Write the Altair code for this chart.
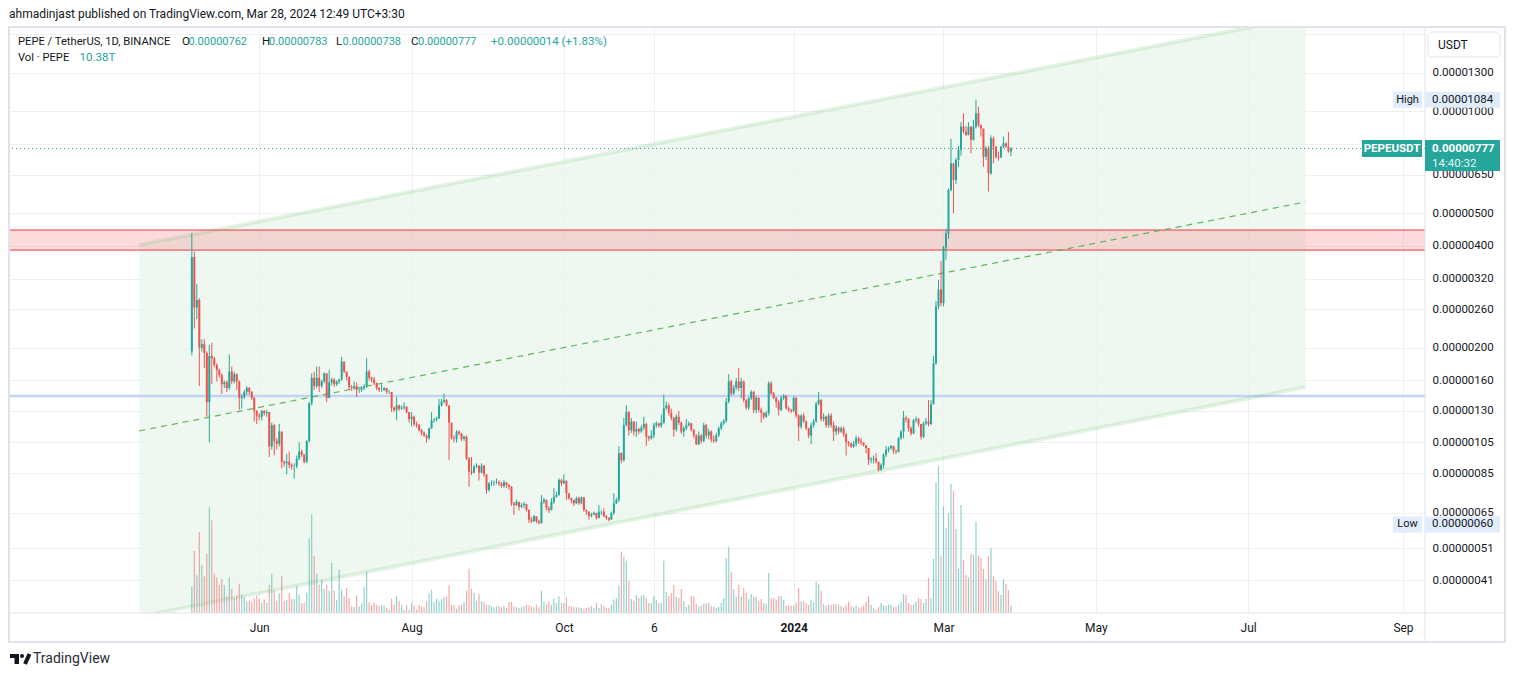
import altair as alt
import pandas as pd

# ---------------- data (prices in units of 1e-8 USDT, volume in trillions) ----------------
start_date = "2023-05-05"
first_open_e8 = 195

close_e8 = [
    371, 263, 277, 200, 205, 193, 138, 189, 186, 178,
    172, 166, 156, 158, 152, 170, 159, 167, 159, 142,
    143, 148, 152, 148, 142, 130, 126, 125, 130, 128,
    129, 102, 118, 106, 104, 113, 92, 91, 92, 90,
    89, 89, 94, 98.6, 96.4, 92, 106, 137, 163, 154,
    163, 154, 159, 168, 142, 158, 161, 156, 159, 161,
    182, 170, 164, 153, 152, 154, 150, 150, 152, 154,
    170, 163, 161, 157, 152, 150, 150, 152, 148, 148,
    133, 131, 135, 132, 133, 134, 129, 123, 125, 119,
    118, 114, 112, 110, 108, 115.5, 122, 122.5, 123.5, 135,
    138.5, 140, 135, 120, 108, 107.5, 113, 111.6, 107.5, 109,
    94, 86, 85.4, 89, 89.5, 85.4, 89.5, 84.4, 75.9, 79.4,
    79.8, 80, 80.2, 79.4, 78, 80, 78.5, 77.6, 69.3, 68.5,
    70, 67.7, 68.5, 69, 66.2, 62, 61.3, 63.5, 61.3, 60.6,
    70, 71, 67, 66.2, 70, 72.5, 73.3, 81.2, 79.4, 80.8,
    74.2, 71.8, 70.9, 69.3, 71.8, 69.3, 72.2, 66.2, 65.5, 63.5,
    64.2, 64.9, 62.8, 65.5, 65.5, 63.5, 62.8, 62, 64.9, 69.3,
    70.9, 97.5, 93, 118, 129, 114, 121, 113, 115, 113,
    116, 119, 109, 108, 110, 118, 119.5, 117.5, 120, 132.5,
    135, 128.5, 124, 114.5, 125, 120, 113, 115.5, 118, 119.5,
    114.3, 110, 103.6, 110, 106, 118, 110, 113, 107, 106,
    110, 115.5, 119.5, 121.5, 138.5, 159, 146.5, 152, 159, 152,
    159, 140, 133, 142, 148, 131, 142, 131, 128.5, 125,
    128, 157, 146.5, 142, 138, 131, 142, 144, 132.5, 131,
    130, 142, 126, 117, 126, 121, 115.5, 110, 118, 121,
    136.5, 140, 123, 125, 118, 126, 118, 113, 116, 113,
    115.5, 111, 105, 104, 102, 104, 107.8, 105.7, 104.8, 103,
    101, 93, 93.5, 94, 92, 87, 90, 96.4, 99.7, 100.8,
    102.4, 99, 98.5, 107.8, 113, 124, 123, 115.5, 111.6, 122,
    123, 119, 109, 119.6, 121, 119, 136, 180, 265, 297,
    271, 396, 436, 586, 702, 627, 719, 770, 902, 872,
    852, 902, 824, 902, 988, 912, 890, 735, 778, 656,
    833, 787, 735, 730, 787, 805, 787, 762, 777,
]

high_e8 = [
    437, 385, 309, 280, 212, 212, 195, 204, 207, 188,
    180, 173, 168, 160, 160, 191, 176, 170, 168, 160,
    146, 150, 154, 153, 149, 143, 131, 128, 131, 131,
    131, 129, 120, 119, 108, 119, 113, 93, 97, 98.6,
    91, 91, 96, 105, 100, 97, 106.5, 138, 168, 170,
    176, 176, 161, 169, 168, 172, 163, 163, 160, 162,
    188, 182, 170, 164, 155, 159, 158, 152, 154, 156,
    186, 172, 164, 164, 158, 153, 156, 153, 152, 150,
    148, 134, 143, 136, 135, 138, 134, 129, 129, 126,
    121, 119, 115, 113, 111, 116, 129, 124, 125, 141,
    141, 146, 141, 135, 120, 110, 114, 114, 112, 110,
    110, 95, 95, 90, 91, 90, 91, 90, 84.4, 80,
    81, 81, 82, 81, 80, 81.2, 80, 79, 78, 70,
    71, 70, 69.5, 70, 69, 66.5, 63, 64, 63.5, 62,
    73.3, 72, 71, 68, 71.8, 76.8, 75, 82.2, 82, 84.4,
    81, 74, 72, 71, 72.5, 72.5, 72.5, 72, 66.5, 65.5,
    65, 65.5, 65, 68.5, 66, 67, 64, 63, 65.5, 74.2,
    72, 102.4, 98, 124, 135, 130, 124, 121, 121, 116,
    118, 125, 120, 110, 114, 120, 121, 120, 127, 145,
    138.5, 137, 132, 125, 127, 130, 121, 117, 123, 121,
    120, 115, 111, 113, 111, 120, 119, 115, 114, 110,
    112, 117, 121, 123, 142, 167, 161, 155, 163, 174,
    163, 160, 141, 143, 150, 149, 144, 143, 133, 129,
    130, 159, 159, 148, 143, 140, 144, 146, 145, 134,
    132, 144, 143, 127, 127, 128, 122, 116, 120, 123,
    138.5, 148, 141, 128, 126, 128, 128, 121, 118, 117,
    117, 117, 112, 106, 105, 106, 110, 109, 108, 105,
    103, 101, 95, 96, 97.5, 92, 91, 97.5, 102.4, 102,
    103, 102.5, 100, 109, 114, 130, 126, 124, 117, 123,
    125, 124, 119, 121, 124, 140, 140, 189, 275, 317,
    362, 400, 450, 592, 830, 705, 730, 790, 930, 988,
    905, 930, 905, 944, 1084, 1034, 915, 890, 790, 790,
    850, 843, 790, 760, 790, 843, 810, 870, 783,
]

low_e8 = [
    190, 228, 243, 154, 195, 174, 125, 105, 156, 175,
    159, 163, 146, 152, 148, 150, 156, 157, 150, 131,
    132, 141, 145, 145, 140, 121, 119, 122, 122, 126,
    125, 95, 100, 96, 100, 102, 88, 89, 84.5, 88,
    87, 82, 88, 93, 95, 91, 91, 105, 135, 150,
    152, 148, 152, 157, 138, 142, 155, 153, 154, 156,
    160, 168, 160, 150, 149, 150, 143, 147, 148, 150,
    152, 160, 158, 155, 150, 148, 148, 149, 146, 146,
    129, 129, 122, 130, 131, 131, 128, 120, 117, 117,
    116, 113, 110, 109, 104.8, 107, 115, 120, 121, 123,
    134, 137, 134, 93, 107, 105, 104.8, 110, 106, 106,
    93, 77.6, 84, 85, 88, 81, 85, 83, 74, 75,
    78, 78, 79, 78, 77, 77, 77, 76, 68, 64,
    68, 66, 67, 67, 65.5, 60.6, 60.6, 61, 60.5, 60.0,
    60.3, 69, 66, 64.9, 66, 69, 72, 73, 78, 79,
    70.9, 71, 69.3, 68, 69, 68.5, 69, 65.5, 64, 62,
    63, 64, 62, 62.5, 64, 63, 62, 61.3, 62, 64,
    69, 70, 91, 92, 117, 110, 112, 110, 109, 111,
    112, 114, 102.5, 106, 107, 108, 116, 116, 116, 119,
    131, 126, 122, 109, 113, 118, 111, 109, 114, 117,
    113, 108, 103, 103, 104, 105, 108, 107, 105, 104.5,
    105, 109, 114, 118, 120, 137, 144, 145, 150, 149,
    142, 138, 131, 131, 140, 128, 128, 129, 120, 123,
    124, 126, 145, 141, 133, 126, 130, 140, 131, 129,
    128, 129, 124, 106, 115, 120, 114, 108, 103.6, 116,
    120, 135, 121, 121, 116, 116, 116, 106, 110, 111,
    112, 109, 96, 102, 101, 101, 102, 104, 103, 102,
    97.5, 90, 91, 91, 91, 86, 86.5, 88, 95, 98,
    100, 97, 97, 98, 107, 108, 120, 113, 110, 111,
    120, 117, 107, 108, 118, 117, 118, 136, 178, 260,
    265, 265, 364, 420, 580, 500, 610, 686, 740, 860,
    845, 850, 752, 820, 890, 900, 843, 686, 720, 580,
    650, 702, 725, 715, 730, 780, 780, 755, 738,
]

volume_T = [
    37.9, 88.0, 53.5, 114.6, 68.6, 52.1, 84.2, 150.1, 131.6, 55.8,
    50.7, 39.3, 48.7, 39.3, 23.7, 50.7, 34.5, 21.3, 23.7, 41.6,
    26.0, 22.3, 16.6, 17.5, 15.6, 21.3, 24.6, 20.3, 14.2, 19.5,
    14.2, 40.2, 55.8, 31.7, 17.5, 28.0, 53.0, 17.5, 18.9, 28.8,
    20.3, 20.3, 37.9, 26.0, 13.8, 14.2, 28.8, 106.1, 139.6, 81.4,
    55.8, 40.2, 47.3, 34.1, 40.2, 31.7, 71.0, 31.7, 18.5, 61.5,
    33.1, 23.7, 35.5, 21.3, 9.5, 8.5, 25.1, 9.5, 13.8, 36.5,
    58.6, 15.6, 10.9, 14.6, 11.8, 10.4, 10.9, 10.9, 7.1, 4.7,
    20.3, 11.8, 23.7, 17.5, 11.8, 4.7, 10.9, 4.7, 14.2, 10.9,
    4.7, 11.8, 9.5, 8.1, 16.6, 28.0, 33.1, 15.6, 20.3, 17.5,
    20.3, 22.3, 23.7, 39.3, 11.8, 11.8, 6.1, 10.9, 11.8, 15.6,
    31.7, 62.9, 34.5, 28.4, 17.5, 27.0, 16.6, 15.6, 11.8, 10.9,
    9.5, 8.1, 9.5, 10.4, 8.1, 9.5, 7.1, 15.6, 15.6, 9.5,
    8.1, 7.1, 8.1, 9.5, 11.8, 10.9, 9.5, 8.1, 11.8, 8.1,
    31.7, 15.6, 11.8, 15.6, 11.8, 20.3, 14.2, 23.7, 14.2, 14.2,
    22.3, 9.5, 9.5, 8.5, 8.1, 8.1, 7.1, 6.1, 7.1, 8.1,
    9.5, 7.1, 14.2, 7.1, 12.8, 10.4, 7.5, 7.5, 11.8, 18.9,
    21.3, 38.8, 87.0, 79.9, 74.3, 45.9, 19.9, 17.5, 25.6, 21.3,
    24.6, 25.6, 21.3, 14.2, 14.2, 24.6, 18.9, 14.2, 14.2, 74.3,
    30.2, 24.6, 28.4, 39.8, 23.1, 21.7, 34.1, 17.0, 8.9, 11.8,
    24.6, 23.7, 12.8, 8.9, 10.4, 12.8, 14.2, 14.2, 10.4, 8.9,
    7.1, 8.9, 14.2, 21.3, 78.1, 94.1, 58.6, 34.1, 23.1, 40.2,
    23.1, 35.5, 28.4, 19.9, 27.0, 23.1, 23.1, 16.6, 19.9, 14.2,
    12.8, 56.8, 21.3, 21.3, 18.9, 23.7, 24.6, 18.9, 10.4, 10.4,
    10.4, 10.4, 14.2, 35.5, 16.6, 16.6, 14.2, 11.8, 18.9, 15.2,
    44.4, 41.2, 31.7, 12.8, 10.4, 11.8, 11.8, 12.8, 12.8, 11.8,
    10.4, 8.1, 11.8, 16.0, 10.4, 8.1, 10.4, 8.1, 8.1, 10.4,
    16.0, 24.6, 11.8, 6.7, 4.7, 8.9, 14.2, 10.4, 10.4, 11.8,
    11.8, 8.9, 8.9, 11.8, 16.0, 27.0, 25.6, 14.2, 11.8, 11.8,
    16.0, 21.3, 19.9, 14.2, 19.9, 49.7, 21.3, 76.7, 185.6, 209.2,
    81.4, 151.5, 120.7, 142.0, 183.2, 173.7, 119.3, 62.5, 153.4, 75.7,
    54.0, 50.7, 83.8, 82.8, 129.6, 81.4, 77.7, 62.5, 48.3, 80.5,
    92.3, 52.1, 45.0, 30.8, 25.6, 48.3, 41.2, 32.7, 10.38,
]

price_ticks_e8 = [1700, 1300, 1000, 800, 650, 500, 400, 320, 260, 200, 160, 130, 105, 85, 65, 51, 41]
hidden_ticks_e8 = [1700, 800]   # grid only, label covered in the reference
time_ticks = [(2023, 6, 1), (2023, 8, 1), (2023, 10, 1), (2023, 11, 6), (2024, 1, 1),
              (2024, 3, 1), (2024, 5, 1), (2024, 7, 1), (2024, 9, 1)]

channel_dates = ["2023-04-14", "2024-07-24"]
channel_top_e8 = [403, 1910]
channel_mid_e8 = [113.5, 540]
channel_bot_e8 = [32, 153]
zone_e8 = [389, 446]
support_e8 = 144
last_e8 = 777
ath_e8 = 1084
atl_e8 = 60

E = 1e-8

# ---------------- frames ----------------
dates = pd.date_range(start_date, periods=len(close_e8), freq="D")
open_e8 = [first_open_e8] + close_e8[:-1]
df = pd.DataFrame({
    "date": dates,
    "open": [v * E for v in open_e8],
    "close": [v * E for v in close_e8],
    "high": [v * E for v in high_e8],
    "low": [v * E for v in low_e8],
    "vol": volume_T,
})
df["high"] = df[["high", "open", "close"]].max(axis=1)
df["low"] = df[["low", "open", "close"]].min(axis=1)
df["dir"] = ["up" if c >= o else "down" for o, c in zip(df["open"], df["close"])]

chan = pd.DataFrame({
    "d": pd.to_datetime(channel_dates),
    "top": [v * E for v in channel_top_e8],
    "mid": [v * E for v in channel_mid_e8],
    "bot": [v * E for v in channel_bot_e8],
})
dummy = pd.DataFrame({"k": [0]})

# ---------------- scales / axes ----------------
FONT = "Roboto"
TXT = "#131722"
TEAL = "#26a69a"
RED = "#ef5350"
GRID = "#eef0f3"
FRAME = "#e0e3eb"

yscale = alt.Scale(type="log", domain=[3.2827e-7, 1.7659e-5], nice=False)
xscale = alt.Scale(domain=[alt.DateTime(year=2023, month=2, date=23, hours=4, minutes=30),
                           alt.DateTime(year=2024, month=9, date=7, hours=19, minutes=30)],
                   nice=False)

hide_test = " || ".join(f"abs(datum.value - {v * E:.3e}) < 1e-9" for v in hidden_ticks_e8)
yaxis = alt.Axis(orient="right", values=[v * E for v in price_ticks_e8], format=".8f",
                 labelExpr=f"({hide_test}) ? '' : datum.label",
                 title=None, grid=True, gridColor=GRID, gridWidth=1, domain=False,
                 ticks=False, tickSize=0, labelPadding=7, labelFont=FONT,
                 labelFontSize=11.5, labelColor=TXT, labelOverlap=False,
                 labelFlush=False, labelBound=False)

xaxis = alt.Axis(values=[alt.DateTime(year=y, month=m, date=d) for y, m, d in time_ticks],
                 labelExpr="month(datum.value) == 0 ? timeFormat(datum.value, '%Y') : "
                           "(date(datum.value) != 1 ? timeFormat(datum.value, '%-d') : "
                           "timeFormat(datum.value, '%b'))",
                 labelFontWeight=alt.condition("month(datum.value) == 0",
                                               alt.value("bold"), alt.value("normal")),
                 title=None, grid=True, gridColor=GRID, gridWidth=1, domain=False,
                 ticks=False, tickSize=0, labelPadding=9, labelFont=FONT,
                 labelFontSize=12, labelColor=TXT, labelOverlap=False, labelFlush=False)


def X(field):
    return alt.X(f"{field}:T", scale=xscale, axis=xaxis)


def Yp(field, axis=None):
    return alt.Y(f"{field}:Q", scale=yscale, axis=axis)


color_enc = alt.Color("dir:N", scale=alt.Scale(domain=["up", "down"], range=[TEAL, RED]),
                      legend=None)

# ---------------- background group (price scale) ----------------
chan_fill = alt.Chart(chan).mark_area(color="#e8f5e9", opacity=0.7, clip=True).encode(
    x=X("d"), y=Yp("bot", yaxis), y2="top:Q")

zone = alt.Chart(pd.DataFrame({"lo": [zone_e8[0] * E], "hi": [zone_e8[1] * E]})).mark_rect(
    color="#f23645", opacity=0.18).encode(y=Yp("hi", yaxis), y2="lo:Q")

zone_lines = alt.Chart(pd.DataFrame({"p": [v * E for v in zone_e8]})).mark_rule(
    color="#f23645", strokeWidth=1).encode(y=Yp("p", yaxis))

support = alt.Chart(pd.DataFrame({"p": [support_e8 * E]})).mark_rule(
    color="#c3d3f3", strokeWidth=2.5).encode(y=Yp("p", yaxis))

chan_top = alt.Chart(chan).mark_line(color="#4caf50", opacity=0.15, strokeWidth=4,
                                     clip=True).encode(x=X("d"), y=Yp("top", yaxis))
chan_bot = alt.Chart(chan).mark_line(color="#4caf50", opacity=0.15, strokeWidth=4,
                                     clip=True).encode(x=X("d"), y=Yp("bot", yaxis))
chan_mid = alt.Chart(chan).mark_line(color="#4caf50", opacity=0.9, strokeWidth=1.2,
                                     strokeDash=[6, 5], clip=True).encode(
    x=X("d"), y=Yp("mid", yaxis))

last_line = alt.Chart(pd.DataFrame({"p": [last_e8 * E]})).mark_rule(
    color=TEAL, strokeWidth=1, strokeDash=[1, 3]).encode(y=Yp("p", yaxis))

bg = alt.layer(chan_fill, zone, zone_lines, support, chan_top, chan_bot, chan_mid, last_line)

# ---------------- volume ----------------
vol = alt.Chart(df).mark_bar(width=1.2, opacity=0.5).encode(
    x=X("date"),
    y=alt.Y("vol:Q", scale=alt.Scale(domain=[0, 831], nice=False), axis=None),
    color=color_enc)

# ---------------- candles ----------------
wick = alt.Chart(df).mark_rule(strokeWidth=1).encode(
    x=X("date"), y=Yp("low"), y2="high:Q", color=color_enc)
body = alt.Chart(df).mark_bar(width=2).encode(
    x=X("date"), y=Yp("open"), y2="close:Q", color=color_enc)
candles = alt.layer(wick, body)

# ---------------- labels & frame ----------------
def box(p, cx, w, up, down, color):
    path = f"M-1,{-up / (w / 2):.4f}H1V{down / (w / 2):.4f}H-1Z"
    return alt.Chart(pd.DataFrame({"p": [p]})).mark_point(
        shape=path, size=w * w, filled=True, fill=color, strokeWidth=0, opacity=1).encode(
        x=alt.value(cx), y=Yp("p"))


def ptext(p, t, x, color, align="left", weight="normal", size=11.5, dy=0):
    return alt.Chart(pd.DataFrame({"p": [p], "t": [t]})).mark_text(
        align=align, baseline="middle", font=FONT, fontSize=size, color=color,
        fontWeight=weight, dy=dy).encode(x=alt.value(x), y=Yp("p"), text="t:N")


def stext(t, x, y, color=TXT, size=12.5, weight="normal"):
    return alt.Chart(dummy).mark_text(
        text=t, align="left", baseline="middle", font=FONT, fontSize=size,
        color=color, fontWeight=weight).encode(x=alt.value(x), y=alt.value(y))


frame = alt.Chart(dummy).mark_rect(fillOpacity=0, stroke=FRAME, strokeWidth=2).encode(
    x=alt.value(-1), x2=alt.value(1495), y=alt.value(-1), y2=alt.value(614))
sep_h = alt.Chart(dummy).mark_rule(color=FRAME, strokeWidth=1).encode(
    x=alt.value(-1), x2=alt.value(1495), y=alt.value(585))
sep_v = alt.Chart(dummy).mark_rule(color=FRAME, strokeWidth=1).encode(
    x=alt.value(1415), y=alt.value(-1), y2=alt.value(614))
usdt_box = alt.Chart(dummy).mark_rect(fill="white", stroke=FRAME, strokeWidth=1,
                                      cornerRadius=4).encode(
    x=alt.value(1418), x2=alt.value(1490), y=alt.value(4), y2=alt.value(29))

LIGHT = "#e1ecfc"
labels = alt.layer(
    frame, sep_h, sep_v, usdt_box,
    stext("USDT", 1428, 16.5, size=12),
    # high / low markers
    box(ath_e8 * E, 1397.5, 29, 8, 8, LIGHT), box(ath_e8 * E, 1452.5, 75, 8, 8, LIGHT),
    ptext(ath_e8 * E, "High", 1397.5, TXT, align="center", size=11),
    ptext(ath_e8 * E, "0.00001084", 1422, TXT),
    box(atl_e8 * E, 1397.5, 29, 8, 8, LIGHT), box(atl_e8 * E, 1452.5, 75, 8, 8, LIGHT),
    ptext(atl_e8 * E, "Low", 1397.5, TXT, align="center", size=11),
    ptext(atl_e8 * E, "0.00000060", 1422, TXT),
    # last price
    box(last_e8 * E, 1382, 60, 8.5, 8.5, TEAL),
    ptext(last_e8 * E, "PEPEUSDT", 1382, "white", align="center", weight="bold", size=11.5),
    box(last_e8 * E, 1452.5, 75, 8.5, 22.5, TEAL),
    ptext(last_e8 * E, "0.00000777", 1422, "white", weight="bold"),
    ptext(last_e8 * E, "14:40:32", 1422, "#e6f6f4", dy=15),
    # header
    stext("ahmadinjast published on TradingView.com, Mar 28, 2024 12:49 UTC+3:30", -1, -14, size=12),
    stext("PEPE / TetherUS, 1D, BINANCE", 8, 14, size=11.2),
    stext("O", 172, 14, size=11.5), stext("0.00000762", 178.5, 14, TEAL, size=11),
    stext("H", 252, 14, size=11.5), stext("0.00000783", 259, 14, TEAL, size=11),
    stext("L", 326, 14, size=11.5), stext("0.00000738", 332.5, 14, TEAL, size=11),
    stext("C", 401, 14, size=11.5), stext("0.00000777", 408, 14, TEAL, size=11),
    stext("+0.00000014 (+1.83%)", 481, 14, TEAL, size=11.5),
    stext("Vol · PEPE", 8, 30, size=11.2), stext("10.38T", 69.5, 30, TEAL, size=11.5),
    # TradingView logo
    alt.Chart(dummy).mark_rect(color="#131722").encode(
        x=alt.value(0), x2=alt.value(9), y=alt.value(626), y2=alt.value(630)),
    alt.Chart(dummy).mark_rect(color="#131722").encode(
        x=alt.value(4.5), x2=alt.value(9), y=alt.value(626), y2=alt.value(636)),
    alt.Chart(dummy).mark_point(filled=True, color="#131722", size=16, opacity=1).encode(
        x=alt.value(12), y=alt.value(628)),
    alt.Chart(dummy).mark_rule(color="#131722", strokeWidth=4).encode(
        x=alt.value(15), x2=alt.value(19.5), y=alt.value(636), y2=alt.value(626)),
    stext("TradingView", 23, 631, color="#2a2e39", size=14),
)

chart = alt.layer(bg, vol, candles, labels).resolve_scale(y="independent").properties(
    width=1415, height=585,
    padding={"left": 2, "top": 20, "right": 82, "bottom": 55},
    autosize=alt.AutoSizeParams(type="none"),
    background="white",
).configure_view(strokeWidth=0)

chart.save("out.html", embed_options={"renderer": "svg", "actions": False})
